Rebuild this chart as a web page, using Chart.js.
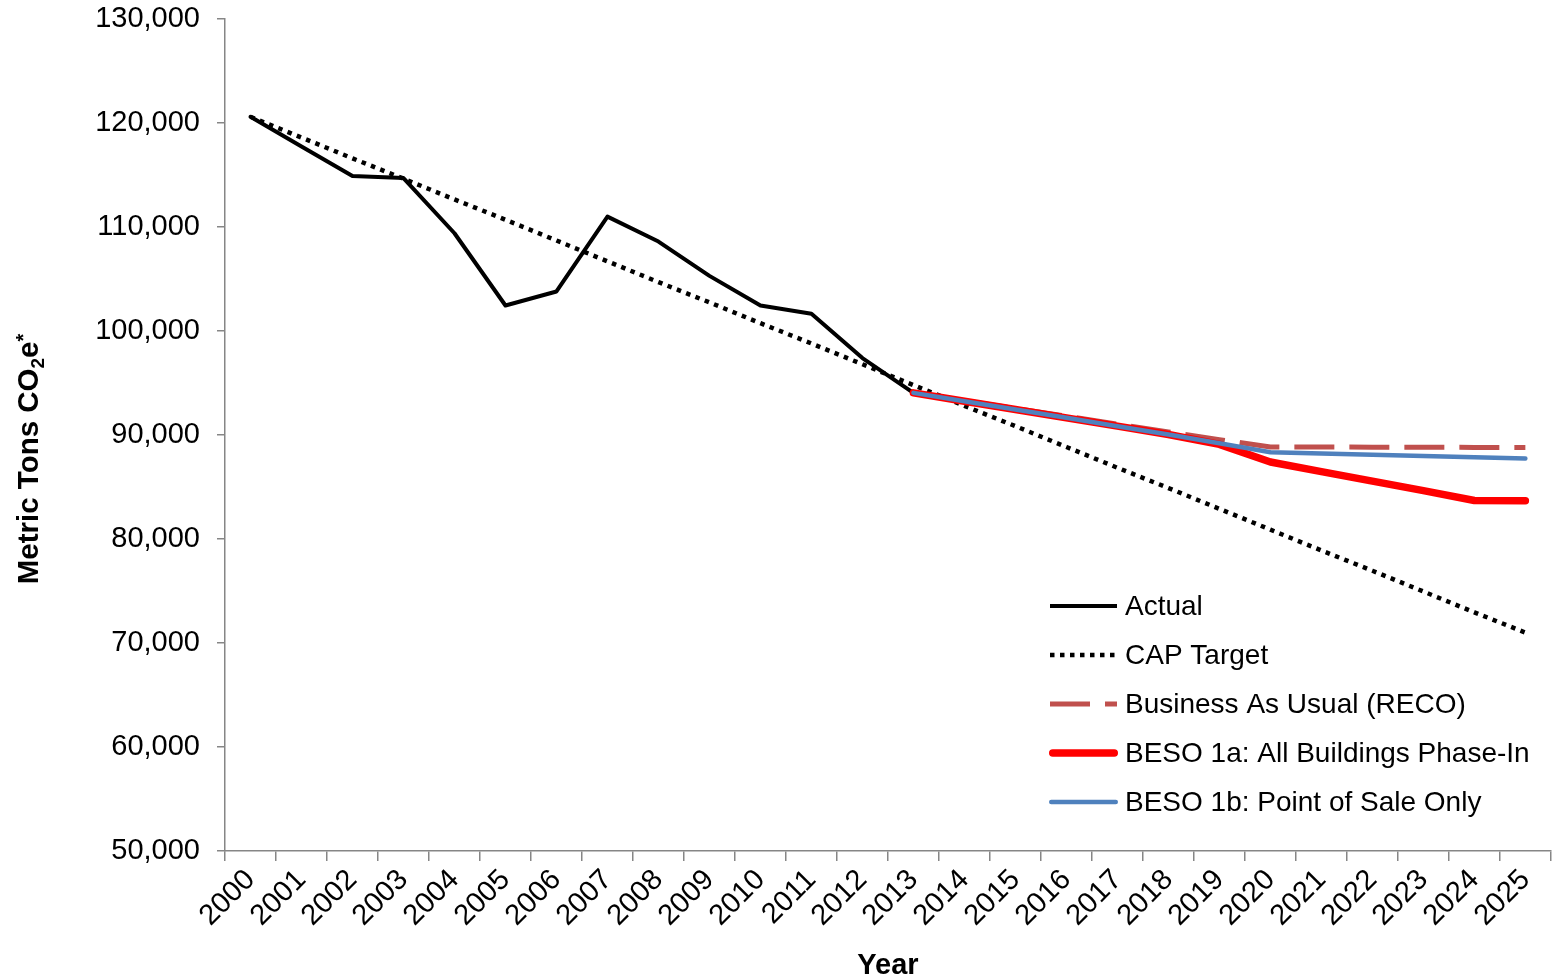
<!DOCTYPE html>
<html>
<head>
<meta charset="utf-8">
<script src="https://cdn.jsdelivr.net/npm/chart.js@4.4.1/dist/chart.umd.min.js"></script>
<style>
html,body{margin:0;padding:0;background:#ffffff;}
#wrap{width:1552px;height:980px;position:relative;overflow:hidden;}
canvas{display:block;}
</style>
</head>
<body>
<div id="wrap"><canvas id="c" width="1552" height="980"></canvas></div>
<script>
// ---- data ----
const years = ['2000','2001','2002','2003','2004','2005','2006','2007','2008','2009','2010','2011','2012',
               '2013','2014','2015','2016','2017','2018','2019','2020','2021','2022','2023','2024','2025'];
const actual = [120600,117750,114900,114700,109400,102450,103800,111000,108600,105300,102450,101650,97400,94050,
                null,null,null,null,null,null,null,null,null,null,null,null];
const capTarget = [120600,118600,116600,114650,112650,110700,108700,106700,104700,102750,100750,98800,96800,94800,
                   92800,90850,88850,86850,84900,82900,80900,78900,76950,74950,72950,71000];
const businessAsUsual = [null,null,null,null,null,null,null,null,null,null,null,null,null,
                         94050,93300,92550,91800,91050,90300,89550,88850,88840,88830,88820,88810,88800];
const beso1a = [null,null,null,null,null,null,null,null,null,null,null,null,null,
                94050,93250,92450,91650,90850,90050,89100,87400,86480,85560,84650,83700,83680];
const beso1b = [null,null,null,null,null,null,null,null,null,null,null,null,null,
                94050,93250,92450,91650,90850,90050,89200,88350,88230,88110,87990,87870,87750];
const yTickValues = [50000,60000,70000,80000,90000,100000,110000,120000,130000];
const seriesLabels = ['Actual','CAP Target','Business As Usual (RECO)','BESO 1a: All Buildings Phase-In','BESO 1b: Point of Sale Only'];
const xTitle = 'Year';
const yTitleParts = [['Metric Tons CO','main'],['2','sub'],['e','main'],['*','sup']];

// ---- style ----
const FONT = "'Liberation Sans', Arial, Helvetica, sans-serif";
const AXIS = '#868686';

const yTitlePlugin = {
  id: 'yTitle',
  afterDraw(chart) {
    const ctx = chart.ctx;
    const sizes = {main: 29.5, sub: 19, sup: 20};
    const shift = {main: 0, sub: 6, sup: -8};
    ctx.save();
    let total = 0;
    const parts = yTitleParts.map(([t, k]) => {
      ctx.font = `bold ${sizes[k]}px ${FONT}`;
      const w = ctx.measureText(t).width;
      total += w;
      return {t, k, w};
    });
    ctx.translate(38, 459);
    ctx.rotate(-Math.PI / 2);
    ctx.fillStyle = '#000';
    ctx.textBaseline = 'alphabetic';
    ctx.textAlign = 'left';
    let x = -total / 2;
    parts.forEach(p => {
      ctx.font = `bold ${sizes[p.k]}px ${FONT}`;
      ctx.fillText(p.t, x, shift[p.k]);
      x += p.w;
    });
    ctx.restore();
  }
};

const legendPlugin = {
  id: 'insideLegend',
  afterDraw(chart) {
    const ctx = chart.ctx;
    const y0 = 606, dy = 49, tx = 1125;
    chart.data.datasets.forEach((ds, i) => {
      const y = y0 + i * dy;
      const round = ds.legendCap === 'round';
      const xa = round ? 1050 + ds.borderWidth / 2 - 1 : 1050;
      const xb = round ? 1117 - ds.borderWidth / 2 + 1 : 1117;
      ctx.save();
      ctx.strokeStyle = ds.borderColor;
      ctx.lineWidth = ds.borderWidth;
      ctx.setLineDash(ds.borderDash || []);
      ctx.lineCap = ds.legendCap || 'butt';
      ctx.beginPath();
      ctx.moveTo(xa, y);
      ctx.lineTo(xb, y);
      ctx.stroke();
      ctx.setLineDash([]);
      ctx.fillStyle = '#000';
      ctx.font = `28px ${FONT}`;
      ctx.textBaseline = 'middle';
      ctx.textAlign = 'left';
      ctx.fillText(ds.label, tx, y + 1);
      ctx.restore();
    });
  }
};

new Chart(document.getElementById('c'), {
  type: 'line',
  data: {
    labels: years,
    datasets: [
      {label: seriesLabels[0], data: actual, borderColor: '#000000', borderWidth: 4,
       borderCapStyle: 'round', borderJoinStyle: 'round', legendCap: 'butt', order: 5},
      {label: seriesLabels[1], data: capTarget, borderColor: '#000000', borderWidth: 4.5,
       borderDash: [4.5, 5.5], borderCapStyle: 'butt', legendCap: 'butt', order: 4},
      {label: seriesLabels[2], data: businessAsUsual, borderColor: '#C0504D', borderWidth: 5,
       borderDash: [40, 15], borderCapStyle: 'butt', legendCap: 'butt', order: 3},
      {label: seriesLabels[3], data: beso1a, borderColor: '#FF0000', borderWidth: 7.5,
       borderCapStyle: 'round', borderJoinStyle: 'round', legendCap: 'round', order: 2},
      {label: seriesLabels[4], data: beso1b, borderColor: '#4F81BD', borderWidth: 4.5,
       borderCapStyle: 'round', borderJoinStyle: 'round', legendCap: 'round', order: 1}
    ]
  },
  options: {
    responsive: false,
    animation: false,
    devicePixelRatio: 1,
    elements: {point: {radius: 0, hoverRadius: 0}, line: {tension: 0, fill: false}},
    layout: {padding: {top: 0, right: 1, left: 0, bottom: 0}},
    plugins: {legend: {display: false}, tooltip: {enabled: false}, title: {display: false}},
    scales: {
      x: {
        type: 'category',
        offset: true,
        grid: {offset: true, drawOnChartArea: false, drawTicks: true, tickLength: 10, color: AXIS, lineWidth: 1.5},
        border: {display: true, color: AXIS, width: 1.5},
        ticks: {autoSkip: false, maxRotation: 45, minRotation: 45, color: '#000', padding: 2,
                font: {family: FONT, size: 29}},
        title: {display: true, text: xTitle, color: '#000', padding: {top: 0, bottom: 0},
                font: {family: FONT, size: 29, weight: 'bold', lineHeight: 1}},
        afterFit(s) { s.height = 129; }
      },
      y: {
        min: 50000, max: 130000,
        afterBuildTicks(s) { s.ticks = yTickValues.map(v => ({value: v})); },
        grid: {drawOnChartArea: false, drawTicks: true, tickLength: 8, color: AXIS, lineWidth: 1.5},
        border: {display: true, color: AXIS, width: 1.5},
        ticks: {color: '#000', padding: 17, font: {family: FONT, size: 29},
                callback: v => Number(v).toLocaleString('en-US')},
        title: {display: false},
        afterFit(s) { s.width = 225; s.paddingTop = 19; s.paddingBottom = 0; }
      }
    }
  },
  plugins: [yTitlePlugin, legendPlugin]
});
</script>
</body>
</html>
